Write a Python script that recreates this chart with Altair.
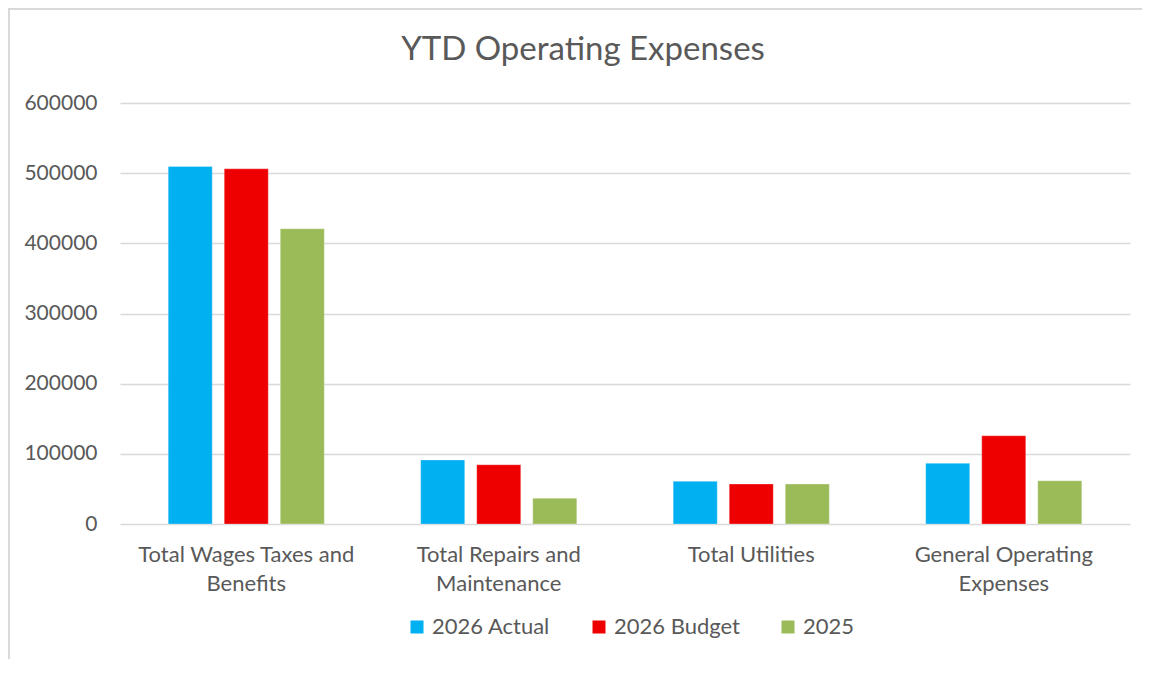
import altair as alt
import pandas as pd

categories = [
    "Total Wages Taxes and Benefits",
    "Total Repairs and Maintenance",
    "Total Utilities",
    "General Operating Expenses",
]
category_lines = [
    ["Total Wages Taxes and", "Benefits"],
    ["Total Repairs and", "Maintenance"],
    ["Total Utilities"],
    ["General Operating", "Expenses"],
]
series = ["2026 Actual", "2026 Budget", "2025"]
actual_2026 = [509500, 91200, 60800, 86500]
budget_2026 = [506200, 84500, 57000, 125800]
year_2025 = [420800, 36600, 57000, 61700]
colors = ["#00B0F0", "#EE0000", "#9BBB59"]
y_ticks = [0, 100000, 200000, 300000, 400000, 500000, 600000]

rows = []
for vals, s in zip([actual_2026, budget_2026, year_2025], series):
    for c, v in zip(categories, vals):
        rows.append({"Category": c, "Series": s, "Value": v})
df = pd.DataFrame(rows)

# multi-line label expression
parts = []
for c, lines in zip(categories, category_lines):
    arr = "[" + ",".join("'" + l + "'" for l in lines) + "]"
    parts.append(f"datum.label == '{c}' ? {arr} : ")
label_expr = "".join(parts) + "datum.label"

FONT = "Lato"
TXT = "#595959"
BORDER = "#D9D9D9"

bars = alt.Chart(df).mark_bar(stroke="white", strokeWidth=0.6, strokeOpacity=0.5).encode(
    x=alt.X("Category:N", sort=categories,
            scale=alt.Scale(paddingInner=0, paddingOuter=0),
            axis=alt.Axis(title=None, labelAngle=0, domain=False, ticks=False, grid=False,
                          labelExpr=label_expr, labelFont=FONT, labelFontSize=22,
                          labelColor=TXT, labelPadding=20, labelLineHeight=29,
                          labelBaseline="top", labelLimit=0)),
    xOffset=alt.XOffset("Series:N", sort=series,
                        scale=alt.Scale(paddingInner=0.214, paddingOuter=0.86)),
    y=alt.Y("Value:Q", scale=alt.Scale(domain=[0, 600000], nice=False),
            axis=alt.Axis(title=None, values=y_ticks, format="d", domain=False, ticks=False,
                          labelFont=FONT, labelFontSize=21, labelColor=TXT, labelPadding=23,
                          gridColor="#D9D9D9", gridWidth=1.3)),
    color=alt.Color("Series:N", sort=series,
                    scale=alt.Scale(domain=series, range=colors),
                    legend=alt.Legend(title=None, orient="none", legendX=286, legendY=513,
                                      direction="horizontal", symbolType="square",
                                      symbolSize=169, symbolStrokeWidth=0,
                                      labelFont=FONT, labelFontSize=22, labelColor=TXT,
                                      labelOffset=4, columnPadding=37, padding=0)),
)

frame_df = pd.DataFrame({"k": [0]})
left_edge = alt.Chart(frame_df).mark_rule(color=BORDER, strokeWidth=2).encode(
    x=alt.value(-111), y=alt.value(-94), y2=alt.value(700)
)
top_edge = alt.Chart(frame_df).mark_rule(color=BORDER, strokeWidth=2).encode(
    x=alt.value(-112), x2=alt.value(1200), y=alt.value(-94)
)

chart = alt.layer(left_edge, top_edge, bars).properties(
    width=1010,
    height=421,
    title=alt.TitleParams("YTD Operating Expenses", font=FONT, fontSize=33,
                          fontWeight="normal", color=TXT, anchor="middle",
                          baseline="alphabetic", dx=-42, offset=-85),
    autosize=alt.AutoSizeParams(type="none"),
    padding={"left": 112, "top": 95, "right": 12, "bottom": 135},
).configure(background="white").configure_view(stroke=None)

chart.save("out.html", embed_options={"renderer": "svg", "actions": False})
